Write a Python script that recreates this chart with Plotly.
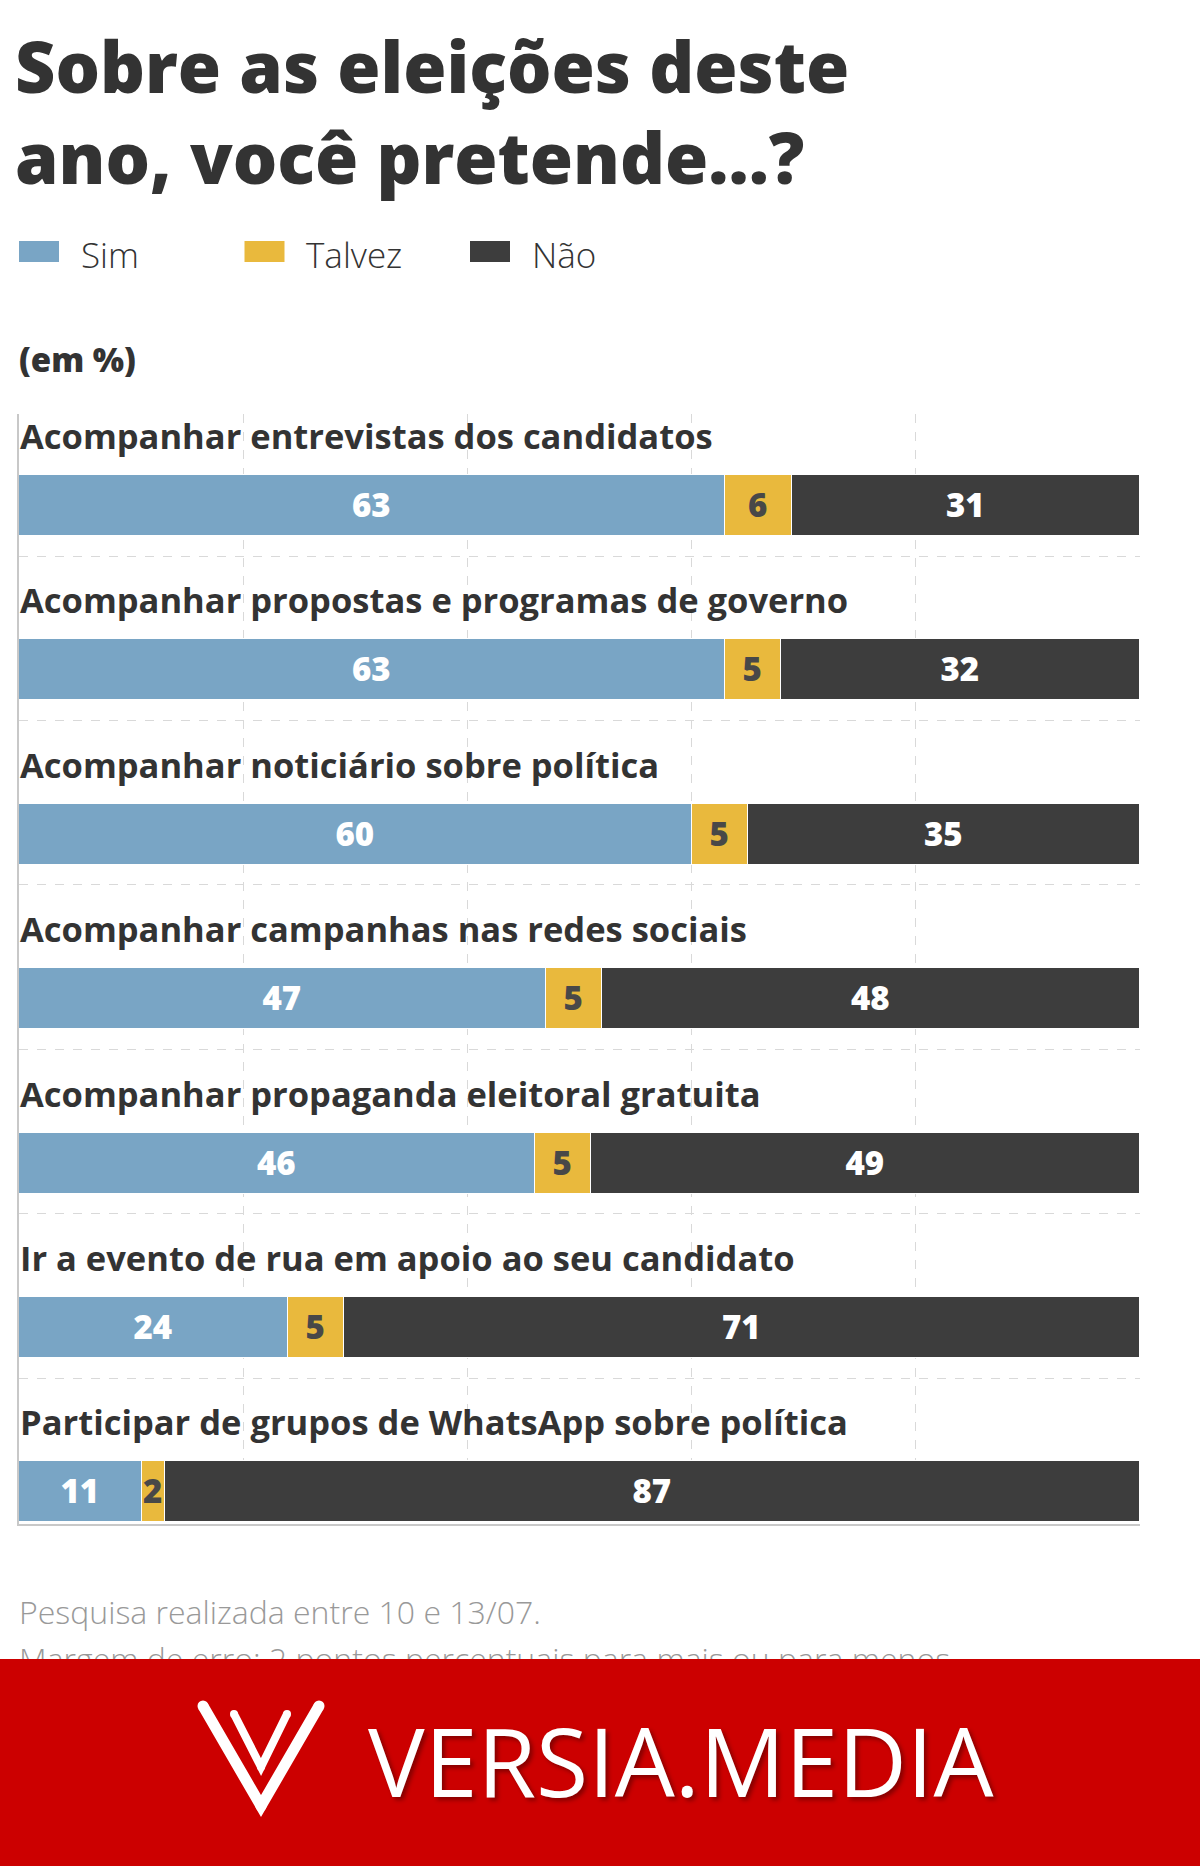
import plotly.graph_objects as go

W, H = 1200, 1866

categories = [
    "Acompanhar entrevistas dos candidatos",
    "Acompanhar propostas e programas de governo",
    "Acompanhar noticiário sobre política",
    "Acompanhar campanhas nas redes sociais",
    "Acompanhar propaganda eleitoral gratuita",
    "Ir a evento de rua em apoio ao seu candidato",
    "Participar de grupos de WhatsApp sobre política",
]
sim = [63, 63, 60, 47, 46, 24, 11]
talvez = [6, 5, 5, 5, 5, 5, 2]
nao = [31, 32, 35, 48, 49, 71, 87]

series_names = ["Sim", "Talvez", "Não"]
series_values = [sim, talvez, nao]
series_colors = ["#79a5c5", "#e9b93d", "#3d3d3d"]
text_colors = ["#ffffff", "#484848", "#ffffff"]
x_ticks = [20, 40, 60, 80, 100]

title_text = "Sobre as eleições deste<br>ano, você pretende...?"
unit_text = "(em %)"
note1 = "Pesquisa realizada entre 10 e 13/07."
note2 = "Margem de erro: 2 pontos percentuais para mais ou para menos"
brand = "VERSIA.MEDIA"


def px(x):
    return x / W


def py(y):
    return 1 - y / H


ypos = list(range(len(categories)))
BAR_W = 0.371
LABEL_OFF = -0.426
GRID_OFF = 0.307

fig = go.Figure()
for name, vals, col, tcol in zip(series_names, series_values, series_colors, text_colors):
    fig.add_trace(go.Bar(
        y=ypos, x=vals, name=name, orientation="h",
        marker=dict(color=col, line=dict(color="#ffffff", width=1.5)),
        width=BAR_W,
        text=[str(v) for v in vals], textposition="inside",
        insidetextanchor="middle", constraintext="none", textangle=0,
        textfont=dict(family="Open Sans", size=33, color=tcol, weight=800),
        showlegend=False, hoverinfo="x+name",
    ))

# footnote second line, clipped by its own subplot area (partially hidden by banner)
fig.add_trace(go.Scatter(
    x=[0], y=[-0.06], mode="text", text=[note2], textposition="middle right",
    textfont=dict(family="Open Sans", size=32, color="#999999", weight=300),
    cliponaxis=True, xaxis="x2", yaxis="y2", showlegend=False, hoverinfo="skip",
))

fig.update_layout(
    width=W, height=H, autosize=False,
    margin=dict(l=0, r=0, t=0, b=0),
    paper_bgcolor="#ffffff", plot_bgcolor="#ffffff",
    barmode="stack", bargap=0,
    title=dict(text=title_text, x=px(15), xanchor="left", y=py(93), yanchor="top",
               font=dict(family="Open Sans", size=70, color="#333333", weight=800),
               pad=dict(t=0, b=0, l=0, r=0)),
    xaxis=dict(domain=[px(19), px(1140)], range=[0, 100], tickvals=x_ticks,
               showticklabels=False, showgrid=True, gridcolor="#d9d9d9",
               griddash="dash", gridwidth=1, zeroline=False,
               showline=True, linecolor="#c8c8c8", linewidth=2, mirror=False,
               ticks="", fixedrange=True),
    yaxis=dict(domain=[py(1524), py(414)], range=[6.195, -0.557],
               tickvals=[i + GRID_OFF for i in ypos[:-1]], showticklabels=False,
               showgrid=True, gridcolor="#d9d9d9", griddash="dash", gridwidth=1,
               zeroline=False, showline=True, linecolor="#c8c8c8", linewidth=2,
               ticks="", fixedrange=True),
    xaxis2=dict(domain=[px(19), 1], range=[0, 1], visible=False, fixedrange=True),
    yaxis2=dict(domain=[py(1659), py(1585)], range=[0, 1], visible=False,
                anchor="x2", fixedrange=True),
)

annotations = []
for i, cat in enumerate(categories):
    annotations.append(dict(
        x=0, y=i + LABEL_OFF, xref="x", yref="y", text=cat, showarrow=False,
        xanchor="left", yanchor="middle", xshift=-1,
        font=dict(family="Open Sans", size=34.5, color="#333333", weight=700),
    ))

# manual legend
shapes = []
for k, (name, col) in enumerate(zip(series_names, series_colors)):
    x0 = 19 + k * 225.5
    shapes.append(dict(type="rect", xref="paper", yref="paper",
                       x0=px(x0), x1=px(x0 + 40), y0=py(262), y1=py(241),
                       fillcolor=col, line=dict(width=0)))
    annotations.append(dict(x=px(x0 + 60), y=py(255), xref="paper", yref="paper",
                            text=name, showarrow=False, xanchor="left", yanchor="middle",
                            font=dict(family="Open Sans", size=35, color="#333333", weight=300)))

annotations.append(dict(x=px(17), y=py(359), xref="paper", yref="paper", text=unit_text,
                        showarrow=False, xanchor="left", yanchor="middle",
                        font=dict(family="Open Sans", size=33, color="#333333", weight=800)))
annotations.append(dict(x=px(17), y=py(1611), xref="paper", yref="paper", text=note1,
                        showarrow=False, xanchor="left", yanchor="middle",
                        font=dict(family="Open Sans", size=32, color="#999999", weight=300)))

# banner
shapes.append(dict(type="rect", xref="paper", yref="paper", x0=0, x1=1,
                   y0=0, y1=py(1659), fillcolor="#cc0000", line=dict(width=0),
                   layer="above"))
# V logo: strokes with rounded ends
logo_strokes = [
    ([(203, 1706), (261, 1806), (319, 1706)], 11),
    ([(234, 1714), (261, 1767), (287, 1714)], 8),
]
for pts, lw in logo_strokes:
    path = "M" + " L".join(f"{px(a)},{py(b)}" for a, b in pts)
    shapes.append(dict(type="path", xref="paper", yref="paper", layer="above",
                       path=path, line=dict(color="#ffffff", width=lw)))
    r = lw / 2
    for a, b in (pts[0], pts[-1], pts[1]):
        shapes.append(dict(type="circle", xref="paper", yref="paper", layer="above",
                           x0=px(a - r), x1=px(a + r), y0=py(b + r), y1=py(b - r),
                           fillcolor="#ffffff", line=dict(width=0)))

annotations.append(dict(x=px(366), y=py(1760), xref="paper", yref="paper", text=brand,
                        showarrow=False, xanchor="left", yanchor="middle",
                        font=dict(family="Open Sans", size=95, color="#ffffff", weight=400,
                                  shadow="3px 3px 4px rgba(0,0,0,0.35)")))

fig.update_layout(annotations=annotations, shapes=shapes)

fig.write_html("out.html")
